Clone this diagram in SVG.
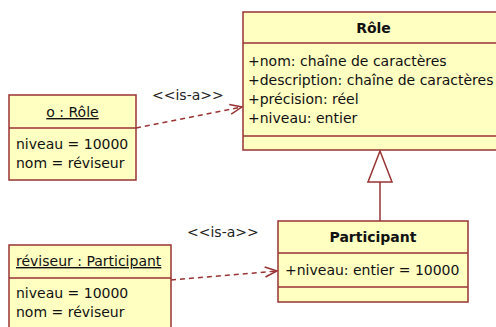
<svg xmlns="http://www.w3.org/2000/svg" width="496" height="327" viewBox="0 0 496 327">
<defs>
<style>
.box{fill:#ffffc1;stroke:#993333;stroke-width:1.5}
.sep{stroke:#993333;stroke-width:1.5;fill:none}
.t{font-family:"DejaVu Sans",Verdana,sans-serif;font-size:14px;fill:#111}
.b{font-weight:bold;text-anchor:middle}
.u{text-decoration:underline}
.dep{stroke:#993333;stroke-width:1.5;fill:none;stroke-dasharray:5,4}
.lbl{font-family:"DejaVu Sans",Verdana,sans-serif;font-size:14px;fill:#222}
</style>
<marker id="open" viewBox="0 0 14 12" refX="13" refY="6" markerWidth="14" markerHeight="12" markerUnits="userSpaceOnUse" orient="auto">
<path d="M1,1 L13,6 L1,11" fill="none" stroke="#993333" stroke-width="1.5"/>
</marker>
</defs>
<rect width="496" height="327" fill="#ffffff"/>
<g id="role">
<rect class="box" x="243" y="12" width="270" height="138"/>
<line class="sep" x1="243" y1="43" x2="513" y2="43"/>
<line class="sep" x1="243" y1="136" x2="513" y2="136"/>
<text class="t b" x="373.5" y="33">Rôle</text>
<text class="t" x="248" y="66">+nom: chaîne de caractères</text>
<text class="t" x="248" y="85">+description: chaîne de caractères</text>
<text class="t" x="248" y="104">+précision: réel</text>
<text class="t" x="248" y="123">+niveau: entier</text>
</g>
<g id="o-role">
<rect class="box" x="9" y="95" width="127" height="85"/>
<line class="sep" x1="9" y1="128" x2="136" y2="128"/>
<text class="t u" x="72.5" y="117" text-anchor="middle">o : Rôle</text>
<text class="t" x="16" y="149">niveau = 10000</text>
<text class="t" x="16" y="168">nom = réviseur</text>
</g>
<g id="participant">
<rect class="box" x="278" y="221" width="190" height="81"/>
<line class="sep" x1="278" y1="253" x2="468" y2="253"/>
<line class="sep" x1="278" y1="287" x2="468" y2="287"/>
<text class="t b" x="373" y="242">Participant</text>
<text class="t" x="285" y="275">+niveau: entier = 10000</text>
</g>
<g id="reviseur">
<rect class="box" x="9" y="245" width="162" height="100"/>
<line class="sep" x1="9" y1="278" x2="171" y2="278"/>
<text class="t u" x="16" y="266">réviseur : Participant</text>
<text class="t" x="16" y="298">niveau = 10000</text>
<text class="t" x="16" y="317">nom = réviseur</text>
</g>
<g id="connectors">
<line class="sep" x1="380" y1="221" x2="380" y2="182"/>
<polygon points="380,151 368,182 392,182" fill="#ffffff" stroke="#993333" stroke-width="1.5"/>
<line class="dep" x1="136" y1="128" x2="242" y2="107" marker-end="url(#open)"/>
<text class="lbl" x="152" y="100">&lt;&lt;is-a&gt;&gt;</text>
<line class="dep" x1="171" y1="280" x2="277" y2="271" marker-end="url(#open)"/>
<text class="lbl" x="187" y="237">&lt;&lt;is-a&gt;&gt;</text>
</g>
</svg>
